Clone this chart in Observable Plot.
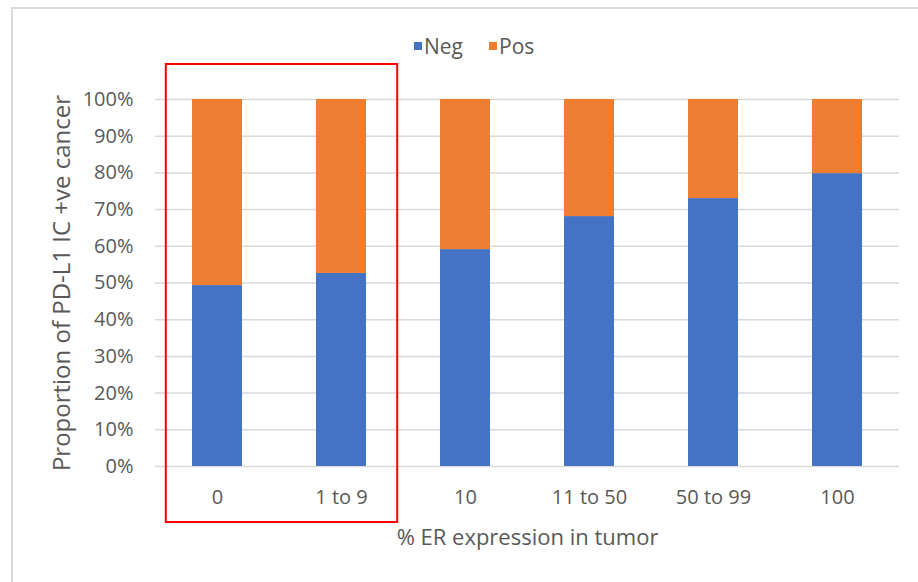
<!DOCTYPE html>
<html>
<head>
<meta charset="utf-8">
<script src="https://cdn.jsdelivr.net/npm/d3@7"></script>
<script src="https://cdn.jsdelivr.net/npm/@observablehq/plot@0.6"></script>
<style>
  body { margin: 0; background: #fff; }
  #wrap { position: relative; width: 918px; height: 582px; overflow: hidden; font-family: "Open Sans", sans-serif; color: #595959; }
  #frame { position: absolute; left: 11px; top: 7px; width: 1000px; height: 700px; border: 2px solid #d9d9d9; box-sizing: border-box; }
  #legend { position: absolute; left: 414px; top: 32px; display: flex; align-items: center; font-size: 21px; line-height: 28px; }
  #legend .item { display: flex; align-items: center; margin-right: 26px; }
  #legend .sw { width: 8px; height: 8px; margin-right: 2px; }
  #chart { position: absolute; left: 0; top: 0; }
</style>
</head>
<body>
<div id="wrap">
  <div id="frame"></div>
  <div id="chart"></div>
  <div id="legend"></div>
</div>
<script>
// ER expression groups along the x axis
const categories = ["0", "1 to 9", "10", "11 to 50", "50 to 99", "100"];
// Share of cases (%) in each group, PD-L1 IC negative / positive
const negShare = [49.3, 52.6, 59.1, 68.1, 73.0, 79.8];
const posShare = [50.7, 47.4, 40.9, 31.9, 27.0, 20.2];
const seriesNames = ["Neg", "Pos"];
const seriesColors = ["#4472C4", "#ED7D31"];
const yTicks = [0, 10, 20, 30, 40, 50, 60, 70, 80, 90, 100];
const xTitle = "% ER expression in tumor";
const yTitle = "Proportion of PD-L1 IC +ve cancer";
// Groups outlined by the red box
const highlighted = ["0", "1 to 9"];

const rows = [
  ...categories.map((c, i) => ({group: c, series: "Neg", value: negShare[i] / 100})),
  ...categories.map((c, i) => ({group: c, series: "Pos", value: posShare[i] / 100}))
];

const chart = Plot.plot({
  width: 918,
  height: 582,
  marginTop: 99,
  marginBottom: 116,
  marginLeft: 155,
  marginRight: 19,
  style: {fontFamily: "Open Sans, sans-serif", fontSize: "20px", color: "#595959", background: "transparent"},
  x: {domain: categories, paddingInner: 0.6, paddingOuter: 0.3},
  y: {domain: [0, 1]},
  color: {domain: seriesNames, range: seriesColors},
  marks: [
    Plot.gridY(yTicks.map(t => t / 100), {stroke: "#d9d9d9", strokeOpacity: 1, strokeWidth: 1.5}),
    Plot.barY(rows, Plot.stackY({x: "group", y: "value", fill: "series", order: seriesNames})),
    Plot.axisY(yTicks.map(t => t / 100), {
      tickSize: 0, tickPadding: 22, tickFormat: d => Math.round(d * 100) + "%", label: null, fontSize: 20
    }),
    Plot.axisX({tickSize: 0, tickPadding: 23, label: null, fontSize: 20}),
    Plot.text([xTitle], {frameAnchor: "bottom", dy: 71, lineAnchor: "middle", textAnchor: "middle", fontSize: 22, fill: "#595959"}),
    Plot.text([yTitle], {frameAnchor: "left", dx: -93, rotate: -90, lineAnchor: "middle", textAnchor: "middle", fontSize: 24, fill: "#595959"})
  ]
});
document.getElementById("chart").append(chart);

// Red outline around the highlighted groups, placed from the x and y scales
const xs = chart.scale("x"), ys = chart.scale("y");
const step = xs.step;
const x0 = xs.apply(highlighted[0]) - step * 0.3 + 11;
const x1 = xs.apply(highlighted[highlighted.length - 1]) + xs.bandwidth + step * 0.3 - 6;
const y0 = ys.apply(1) - 35;
const y1 = ys.apply(0) + 56;
d3.select(chart).append("rect")
  .attr("x", x0).attr("y", y0)
  .attr("width", x1 - x0).attr("height", y1 - y0)
  .attr("fill", "none").attr("stroke", "#ff0000").attr("stroke-width", 2);

// Legend
const legend = d3.select("#legend");
seriesNames.forEach((name, i) => {
  const item = legend.append("div").attr("class", "item");
  item.append("div").attr("class", "sw").style("background", seriesColors[i]);
  item.append("span").text(name);
});
</script>
</body>
</html>
